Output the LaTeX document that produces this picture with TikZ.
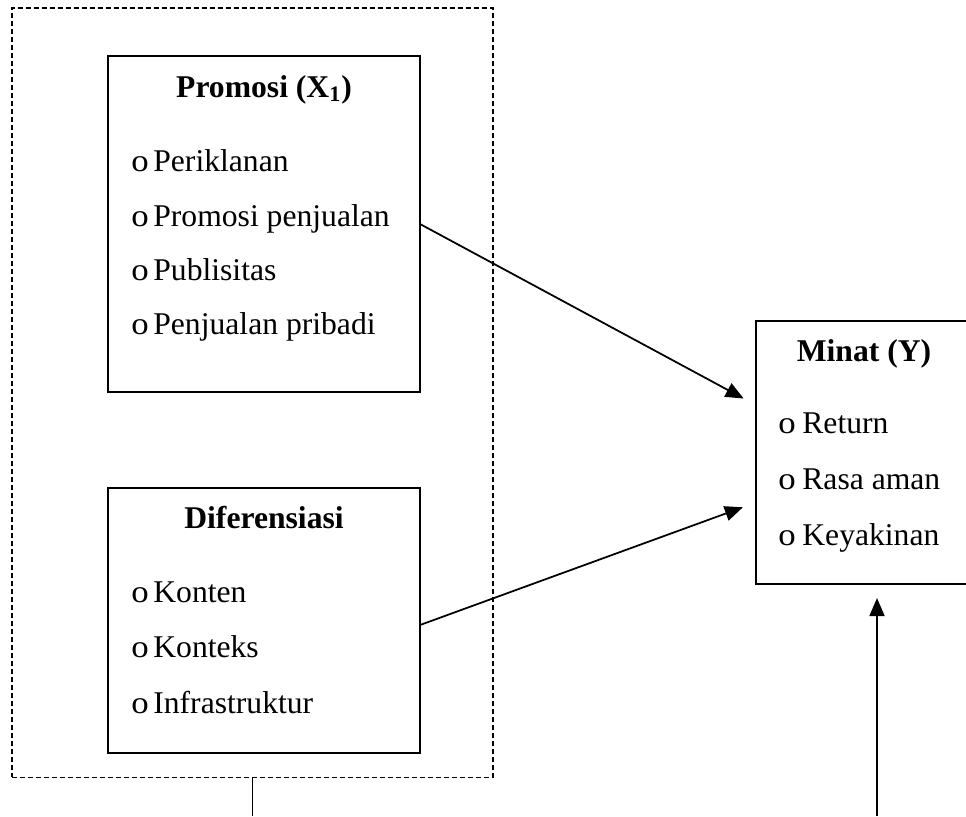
\documentclass[tikz,border=0pt]{standalone}
\usepackage{fontspec}
\setmainfont{Liberation Serif}
\usetikzlibrary{arrows.meta,positioning,calc}
\newcommand{\ob}{\makebox[4.4mm][l]{\scalebox{1.1}[1]{o}}}

\begin{document}
\begin{tikzpicture}[
  x=0.2mm, y=-0.2mm,
  font=\fontsize{18}{22}\selectfont,
  varbox/.style={draw, line width=1.1pt, inner sep=0pt, outer sep=0pt},
  group/.style={draw, line width=0.6pt, dash pattern=on 1mm off 0.6mm,
    inner sep=0pt, outer sep=0pt},
  title/.style={font=\fontsize{18}{22}\selectfont\bfseries, inner sep=0pt,
    anchor=base},
  item/.style={inner sep=0pt, anchor=base west},
  flow/.style={-{Triangle[length=3.6mm,width=3mm]}, line width=1pt,
    shorten >=2.8mm}
]
\useasboundingbox (0,0) rectangle (966,816);
% independent variables
\node[group, minimum width=96.2mm, minimum height=153.8mm] (indep) at (252.5,392.5) {};
% promosi
\node[varbox, minimum width=62.4mm, minimum height=67.2mm] (promosi) at (264,224) {};
\node[title] (promosiT) at (264,97) {Promosi (X\textsubscript{1})};
\node[item] (promo1) at (131,171) {\ob Periklanan};
\node[item] (promo2) at (131,226) {\ob Promosi penjualan};
\node[item] (promo3) at (131,280) {\ob Publisitas};
\node[item] (promo4) at (131,334) {\ob Penjualan pribadi};
% diferensiasi
\node[varbox, minimum width=62.4mm, minimum height=53mm] (difer) at (264,620.5) {};
\node[title] (diferT) at (264,528) {Diferensiasi};
\node[item] (dif1) at (131,602) {\ob Konten};
\node[item] (dif2) at (131,657) {\ob Konteks};
\node[item] (dif3) at (131,713) {\ob Infrastruktur};
% minat
\node[varbox, minimum width=43.2mm, minimum height=52.6mm] (minat) at (864,452.5) {};
\node[title] (minatT) at (864,361) {Minat (Y)};
\node[item] (min1) at (778,433) {\makebox[4.8mm][l]{\scalebox{1.1}[1]{o}}Return};
\node[item] (min2) at (778,489) {\makebox[4.8mm][l]{\scalebox{1.1}[1]{o}}Rasa aman};
\node[item] (min3) at (778,545) {\makebox[4.8mm][l]{\scalebox{1.1}[1]{o}}Keyakinan};
% flows
\draw[flow] (promosi.east) -- ($(minat.north west)!0.32!(minat.south west)$);
\draw[flow] ([yshift=-0.9mm]difer.east) -- ($(minat.north west)!0.69!(minat.south west)$);
\coordinate (foot) at (indep.south |- 0,816);
\coordinate (base) at (877,816);
\draw[line width=1pt] (indep.south) -- (foot);
\draw[flow] (base) -- (base |- minat.south);
\end{tikzpicture}
\end{document}
